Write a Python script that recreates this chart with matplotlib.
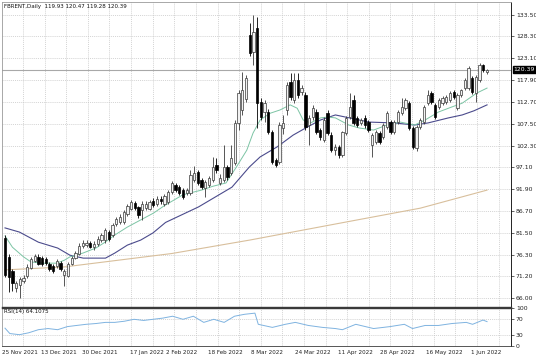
import matplotlib
matplotlib.use("Agg")
import matplotlib.pyplot as plt
import matplotlib.transforms as mtransforms
import numpy as np

# ── layout / style ───────────────────────────────────────────────────────────
W, H, DPI = 536, 357, 100
BULL_FACE = "#f2f2f2"
BULL_EDGE = "#3a3a3a"
BEAR_COLOR = "#000000"
FAST_COLOR = "#7cc4a4"
SLOW_COLOR = "#4b4b8c"
LONG_COLOR = "#d8bf9c"
RSI_COLOR = "#7fb3e0"
GRID_COLOR = "#c4c4c4"
FS = 4.4
DATE_FS = 4.1
TITLE_FS = 4.0
BODY_W = 0.62
# ─────────────────────────────────────────────────────────────────────────────

# daily candles
opens = [80.3, 75.8, 72.5, 68.4, 69.2, 70.0, 71.3, 73.2, 74.9, 75.8,
         75.5, 75.2, 74.1, 73.7, 73.7, 74.4, 71.4, 71.3, 74.1, 75.6,
         76.5, 78.5, 78.6, 79.0, 78.2, 78.9, 79.7, 79.7, 81.7, 80.9,
         83.7, 84.2, 84.0, 86.1, 87.3, 88.6, 87.6, 86.9, 87.5, 87.3,
         89.2, 88.5, 89.7, 88.3, 88.9, 91.2, 92.9, 92.4, 91.7, 91.0,
         91.0, 94.1, 96.0, 94.1, 92.2, 92.9, 94.1, 97.7, 93.4, 94.1,
         97.2, 95.8, 98.1, 107.7, 110.8, 113.4, 128.6, 124.6, 130.3, 112.7,
         110.3, 110.3, 105.5, 98.9, 98.4, 106.5, 110.8, 117.4, 113.1, 117.9,
         115.0, 114.3, 107.2, 109.1, 110.3, 106.0, 103.6, 110.0, 104.8, 101.2,
         102.0, 100.0, 105.3, 109.1, 113.1, 108.9, 107.7, 108.9, 107.9, 102.4,
         103.1, 105.3, 104.3, 106.7, 107.9, 105.5, 107.9, 110.0, 111.2, 112.4,
         106.5, 101.7, 106.7, 107.9, 112.4, 114.8, 111.9, 111.5, 112.4, 112.7,
         113.1, 115.0, 111.2, 114.3, 116.0, 116.0, 118.4, 114.8, 117.9, 121.5,
         119.93]
highs = [81.0, 76.5, 73.0, 70.0, 71.0, 71.5, 74.0, 75.8, 76.6, 76.6,
         76.0, 75.8, 74.6, 74.1, 75.3, 74.9, 73.0, 74.6, 76.0, 77.2,
         79.0, 79.8, 79.9, 79.6, 79.5, 80.7, 81.4, 82.6, 82.3, 83.8,
         85.4, 85.9, 86.9, 88.5, 89.4, 89.1, 88.0, 89.0, 89.0, 89.4,
         89.8, 90.2, 90.3, 90.8, 91.8, 93.8, 93.4, 93.0, 92.2, 92.2,
         96.5, 97.5, 96.5, 94.6, 94.1, 95.0, 99.6, 99.3, 95.5, 102.4,
         97.7, 102.4, 108.4, 115.5, 119.8, 119.0, 131.5, 133.4, 132.9, 113.6,
         113.1, 111.0, 106.0, 99.3, 107.9, 109.6, 117.4, 119.6, 119.5, 119.5,
         116.7, 115.0, 109.6, 112.0, 111.0, 106.5, 109.1, 110.8, 105.5, 102.7,
         102.4, 105.8, 109.4, 114.8, 114.3, 109.4, 108.9, 109.6, 108.4, 105.3,
         106.0, 105.8, 107.7, 110.5, 108.4, 108.4, 110.8, 113.6, 113.6, 112.9,
         107.0, 107.2, 108.9, 112.0, 115.5, 115.3, 112.4, 113.6, 114.1, 114.3,
         115.3, 115.5, 114.8, 115.8, 118.4, 121.2, 118.9, 119.0, 122.0, 121.8,
         120.47]
lows = [71.0, 67.4, 67.7, 67.4, 66.0, 69.5, 70.8, 73.0, 74.5, 73.8,
        73.6, 73.9, 72.5, 72.0, 73.2, 72.5, 68.9, 71.0, 73.8, 75.3,
        76.2, 78.0, 78.2, 77.8, 77.4, 78.5, 79.3, 79.2, 79.6, 80.5,
        83.2, 83.7, 83.6, 85.6, 86.9, 86.9, 85.0, 84.5, 87.0, 86.9,
        87.7, 88.0, 88.5, 87.9, 88.4, 90.8, 91.2, 90.5, 89.5, 90.5,
        90.5, 93.6, 92.9, 91.9, 90.0, 92.4, 93.6, 95.8, 92.9, 93.6,
        94.1, 95.3, 97.7, 106.0, 109.6, 112.7, 123.6, 121.5, 106.5, 108.4,
        107.9, 105.0, 97.9, 97.2, 97.9, 105.0, 109.6, 113.1, 112.4, 113.6,
        114.3, 106.0, 102.4, 108.4, 105.0, 103.6, 103.1, 104.8, 100.7, 100.0,
        99.3, 99.6, 104.8, 108.6, 107.2, 106.7, 107.2, 106.5, 105.5, 99.6,
        102.7, 102.7, 103.9, 106.2, 105.0, 105.0, 107.4, 109.6, 110.8, 106.0,
        101.5, 101.0, 106.2, 107.4, 112.0, 112.2, 108.6, 111.0, 112.0, 112.2,
        112.7, 113.4, 110.8, 113.9, 115.5, 115.5, 114.6, 112.7, 117.4, 119.8,
        119.28]
closes = [71.5, 71.0, 69.6, 69.6, 70.5, 70.8, 73.4, 75.3, 76.1, 74.2,
          74.0, 74.4, 72.9, 72.5, 74.9, 72.9, 72.5, 74.1, 75.6, 76.8,
          78.5, 79.2, 79.1, 78.2, 78.9, 80.1, 80.9, 82.1, 80.1, 83.3,
          84.9, 85.2, 86.4, 88.0, 88.8, 87.4, 85.7, 88.5, 88.4, 88.8,
          88.1, 89.7, 89.0, 90.2, 91.2, 93.4, 91.7, 91.0, 90.0, 91.7,
          95.3, 95.8, 93.4, 92.4, 93.6, 94.6, 97.2, 96.5, 94.6, 97.2,
          94.8, 99.3, 107.7, 114.8, 115.5, 118.4, 124.3, 129.3, 112.4, 109.1,
          112.4, 105.5, 98.4, 97.7, 107.2, 107.7, 116.7, 113.9, 117.9, 114.3,
          116.0, 106.7, 108.9, 111.2, 105.5, 104.3, 108.4, 105.3, 101.2, 102.0,
          100.0, 105.5, 108.9, 111.5, 107.7, 107.2, 108.4, 107.2, 106.0, 104.8,
          105.5, 103.1, 107.2, 110.0, 105.5, 107.9, 110.3, 111.5, 113.1, 106.5,
          102.0, 106.7, 108.4, 111.5, 114.3, 112.7, 109.1, 113.1, 113.6, 113.9,
          114.8, 113.9, 114.3, 115.5, 117.9, 120.8, 115.0, 118.6, 121.5, 120.3,
          120.39]

# moving averages (bar index, price)
fast_x = [0, 2, 5, 7, 10, 14, 16, 17.5, 21, 24.5, 27, 29.6, 33, 36.6, 40, 43,
          48, 53, 56, 59.6, 62.4, 65.2, 66.9, 68.8, 71.5, 74.2, 76.9, 78.8,
          80.4, 82.4, 85.1, 87, 89.1, 92.7, 95.5, 99.4, 103, 106.6, 110.5,
          113.3, 116.9, 120.5, 123.3, 127.2, 130]
fast_y = [80.8, 78.1, 75.8, 74.6, 74.3, 74.3, 75.0, 75.8, 76.7, 77.9, 79.3,
          81.0, 82.9, 84.6, 86.2, 88.0, 90.6, 91.7, 92.6, 93.4, 97.2, 101.2,
          105.3, 108.4, 110.0, 110.8, 112.0, 111.2, 108.4, 107.7, 108.9, 109.1,
          108.9, 107.2, 106.5, 106.0, 107.2, 107.9, 107.2, 108.4, 110.3, 111.5,
          112.4, 114.8, 116.0]
slow_x = [0, 3.9, 9, 14.2, 17.5, 21.1, 27.1, 29.6, 33, 36.6, 39.9, 43.3, 52.2,
          61.2, 65.9, 68.8, 73.4, 77.7, 81.5, 85.1, 89.1, 91.8, 98.2, 104.9,
          110.5, 114.1, 119.6, 123.3, 126.5, 130]
slow_y = [82.7, 81.7, 79.3, 77.9, 76.2, 75.5, 75.5, 76.7, 78.6, 79.8, 81.5,
          84.0, 87.7, 92.4, 97.2, 99.6, 102.0, 104.8, 106.7, 108.4, 109.6,
          109.1, 107.9, 107.7, 107.2, 107.7, 108.9, 109.6, 110.6, 112.0]
long_x = [0, 16, 45, 66, 95, 112, 130]
long_y = [72.7, 73.4, 76.6, 79.8, 84.6, 87.4, 91.7]

# RSI(14)
rsi_x = [0, 1.3, 3.9, 6.4, 9.0, 11.6, 14.2, 16.8, 19.3, 21.9, 24.5, 27.1, 29.6,
         32.2, 34.8, 37.4, 39.9, 42.5, 45.2, 48.0, 50.8, 53.6, 56.3, 59.1,
         61.9, 64.6, 67.4, 68.3, 72.1, 75.6, 78.3, 81.8, 85.6, 89.1, 91,
         94.6, 99.4, 103.8, 107.7, 109.9, 113.3, 116.9, 120.5, 124.4, 126.1,
         128.9, 130]
rsi_y = [47, 33, 30, 35, 43, 46, 43, 51, 54, 57, 59, 62, 62, 65, 70, 67, 70,
         73, 78, 70, 78, 62, 70, 62, 78, 83, 86, 57, 49, 57, 62, 54, 49, 46,
         43, 57, 46, 51, 57, 46, 54, 54, 59, 62, 57, 68, 64]

price_ticks = [133.50, 128.30, 123.10, 117.90, 112.70, 107.50, 102.30, 97.10,
               91.90, 86.70, 81.50, 76.30, 71.20, 66.00]
rsi_levels = [100, 70, 30, 0]
date_labels = ["25 Nov 2021", "13 Dec 2021", "30 Dec 2021", "17 Jan 2022",
               "2 Feb 2022", "18 Feb 2022", "8 Mar 2022", "24 Mar 2022",
               "11 Apr 2022", "28 Apr 2022", "16 May 2022", "1 Jun 2022"]
title = "FBRENT,Daily  119.93 120.47 119.28 120.39"
rsi_title = "RSI(14) 64.1075"
last_price = 120.39

# positions of the date labels on the bar axis
DATE_POS = [-0.75, 14.4, 25.6, 38.3, 47.6, 59.4, 70.7, 82.9, 94.6, 105.7, 118.6, 129.7]
XLIM = (-0.81, 136.46)
VGRID0, VGRID_STEP = 4.85, 5.83

fig = plt.figure(figsize=(W / DPI, H / DPI), dpi=DPI)
ax = fig.add_axes([2 / W, 1 - 307 / H, 509 / W, 305 / H])
rax = fig.add_axes([2 / W, 1 - 346.25 / H, 509 / W, 38.5 / H])

o = np.array(opens); h = np.array(highs); l = np.array(lows); c = np.array(closes)
x = np.arange(len(c))
up = c >= o

vgrid = np.arange(VGRID0, XLIM[1], VGRID_STEP)
for a in (ax, rax):
    for gx in vgrid:
        a.axvline(gx, color=GRID_COLOR, lw=0.5, ls=(0, (1.5, 1.5)), zorder=0)

for t in price_ticks:
    ax.axhline(t, color=GRID_COLOR, lw=0.5, ls=(0, (1.5, 1.5)), zorder=0)

# moving averages
ax.plot(long_x, long_y, color=LONG_COLOR, lw=0.8, zorder=1)
ax.plot(slow_x, slow_y, color=SLOW_COLOR, lw=0.8, zorder=1)
ax.plot(fast_x, fast_y, color=FAST_COLOR, lw=0.7, zorder=1)

# bid line
ax.axhline(last_price, color="#a8a8a8", lw=0.8, zorder=1)

# candles
ax.vlines(x[up], l[up], h[up], color=BULL_EDGE, lw=0.6, zorder=2)
ax.vlines(x[~up], l[~up], h[~up], color=BEAR_COLOR, lw=0.6, zorder=2)
body_lo = np.minimum(o, c)
body_h = np.maximum(np.abs(c - o), 0.15)
ax.bar(x[up], body_h[up], bottom=body_lo[up], width=BODY_W,
       color=BULL_FACE, edgecolor=BULL_EDGE, linewidth=0.5, zorder=3)
ax.bar(x[~up], body_h[~up], bottom=body_lo[~up], width=BODY_W,
       color=BEAR_COLOR, edgecolor=BEAR_COLOR, linewidth=0.5, zorder=3)

ax.set_xlim(*XLIM)
ax.set_ylim(63.86, 136.5)
ax.set_yticks(price_ticks)
ax.set_yticklabels([f"{t:.2f}" for t in price_ticks])
ax.set_xticks([])
ax.tick_params(axis="y", left=False, right=True, labelleft=False, labelright=True,
               length=2, width=0.5, pad=1.5, labelsize=FS, colors="#222222")

ax.text(0.004, 0.995, title, transform=ax.transAxes, ha="left", va="top",
        fontsize=TITLE_FS, color="#111111")

tr = mtransforms.blended_transform_factory(ax.transAxes, ax.transData)
ax.text(1.005, last_price, f"{last_price:.2f}", transform=tr, ha="left",
        va="center", fontsize=FS, color="white",
        bbox=dict(boxstyle="square,pad=0.15", fc="black", ec="black"))

for name, sp in ax.spines.items():
    sp.set_linewidth(0.6)
    sp.set_color("#9a9a9a")
ax.spines["right"].set_color("#000000")
ax.spines["bottom"].set_color("#3a3a3a")
ax.spines["bottom"].set_linewidth(1.0)

# RSI panel
for lv in (70, 30):
    rax.axhline(lv, color=GRID_COLOR, lw=0.5, ls=(0, (1.5, 1.5)), zorder=0)
rax.plot(rsi_x, rsi_y, color=RSI_COLOR, lw=0.7)
rax.set_xlim(*XLIM)
rax.set_ylim(0, 100)
rax.set_yticks(rsi_levels)
rax.set_yticklabels([str(v) for v in rsi_levels])
for lab, v in zip(rax.get_yticklabels(), rsi_levels):
    lab.set_va("top" if v == 100 else ("bottom" if v == 0 else "center"))
rax.tick_params(axis="y", left=False, right=True, labelleft=False, labelright=True,
                length=2, width=0.5, pad=1.5, labelsize=FS, colors="#222222")
rax.set_xticks(DATE_POS)
rax.set_xticklabels(date_labels)
rax.get_xticklabels()[0].set_ha("left")
rax.tick_params(axis="x", length=0, pad=2.5, labelsize=DATE_FS, colors="#222222")
rax.text(0.004, 0.96, rsi_title, transform=rax.transAxes, ha="left", va="top",
         fontsize=TITLE_FS, color="#111111")
for name, sp in rax.spines.items():
    sp.set_linewidth(0.6)
    sp.set_color("#9a9a9a")
rax.spines["right"].set_color("#000000")
rax.spines["top"].set_color("#3a3a3a")
rax.spines["top"].set_linewidth(1.0)
rax.spines["bottom"].set_color("#3a3a3a")

fig.savefig("out.png", dpi=DPI)
